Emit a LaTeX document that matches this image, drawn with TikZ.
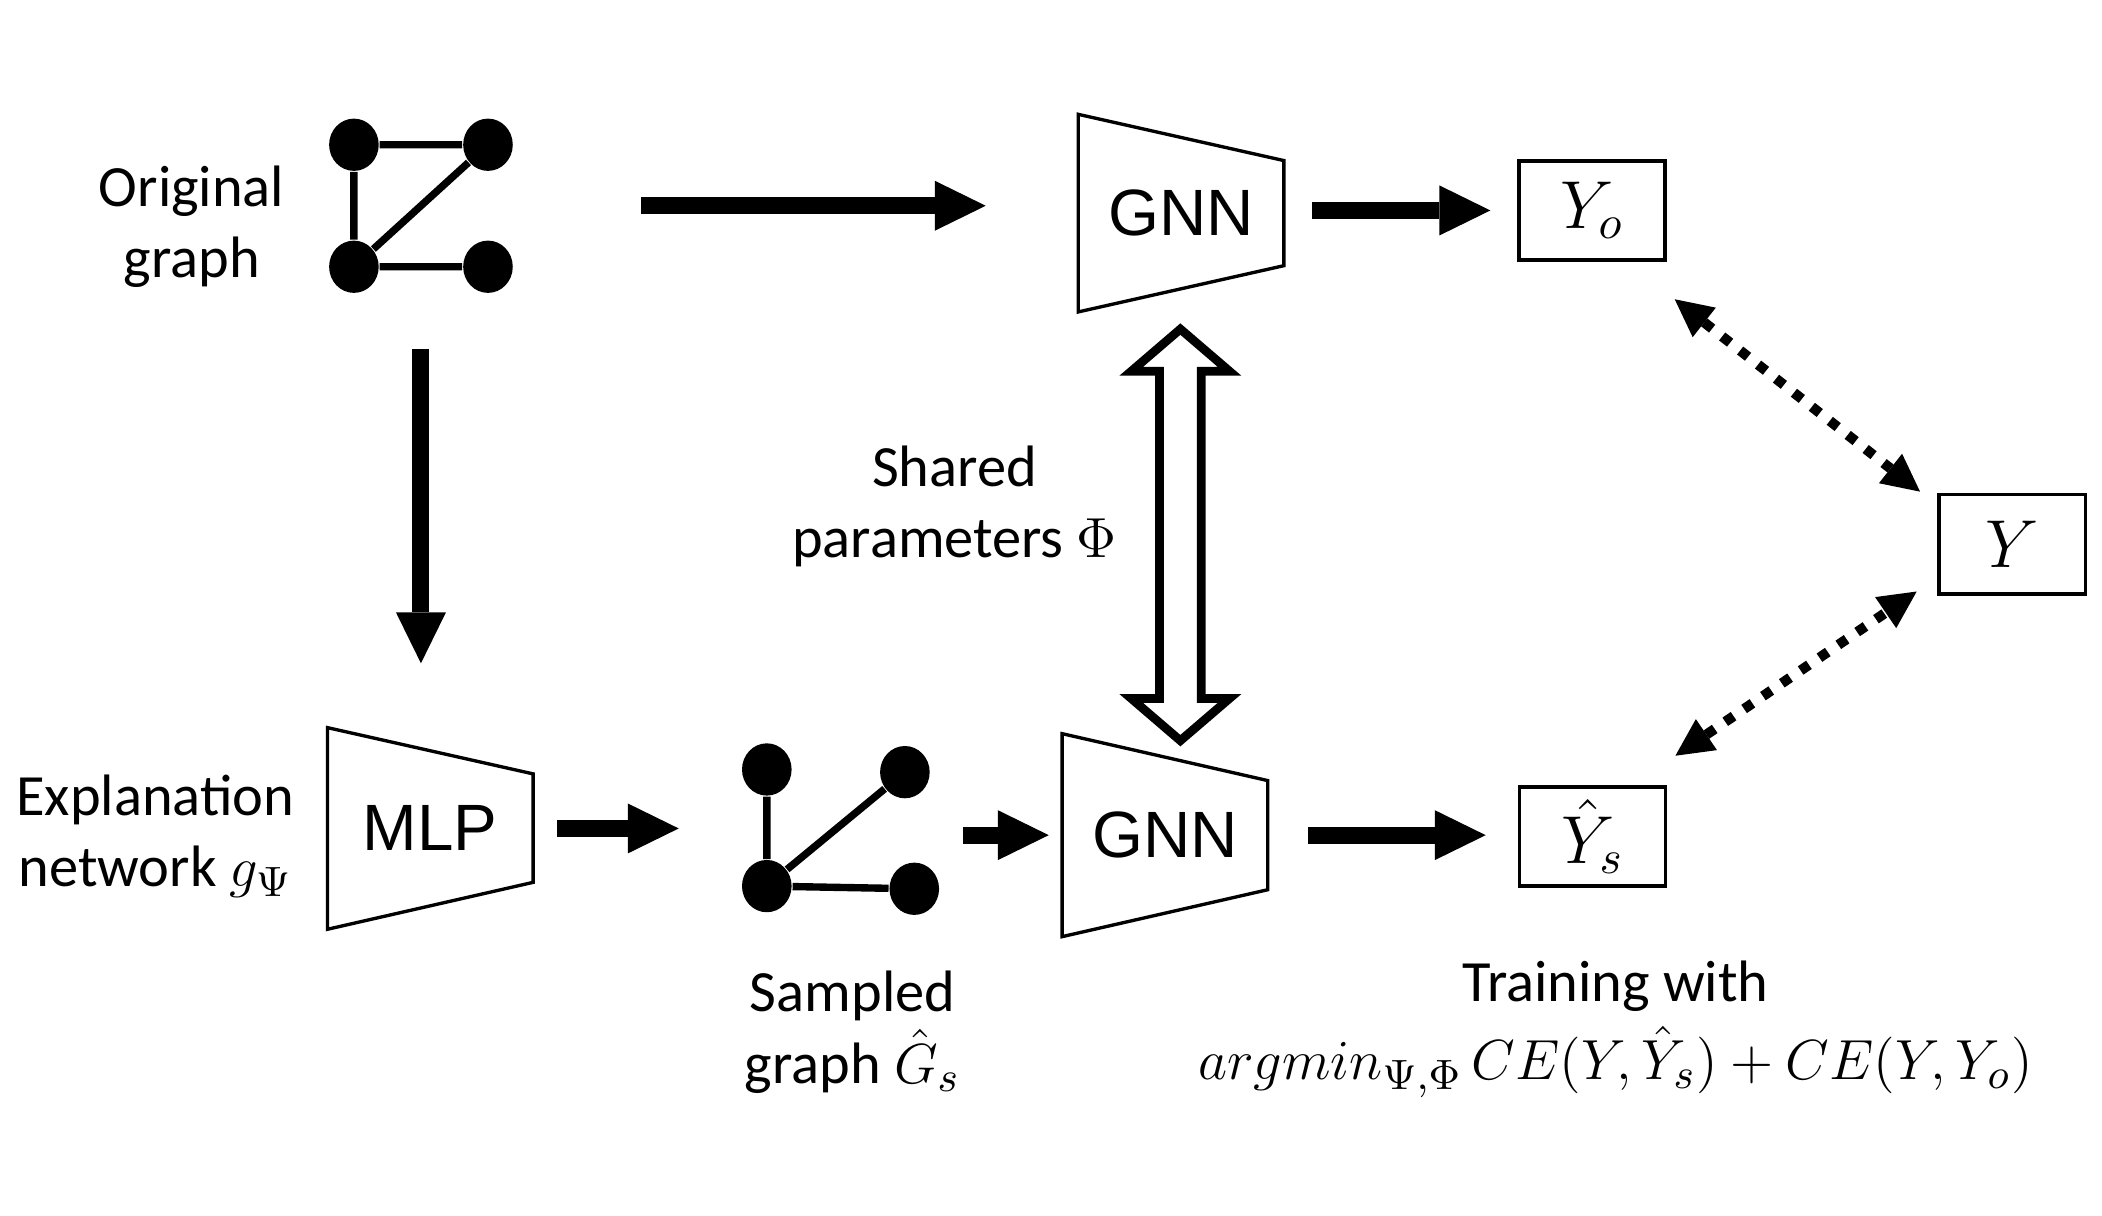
\documentclass[tikz,border=0pt]{standalone}
\usepackage{fontspec}
\setmainfont{Carlito}
\newfontfamily\arialfont{Liberation Sans}
\usetikzlibrary{arrows.meta,shapes.geometric,calc}
\begin{document}
\begin{tikzpicture}[
  lbl/.style={align=center, font=\fontsize{12.4}{15.1}\selectfont, inner sep=0},
  gnode/.style={ellipse, fill=black, minimum width=0.37cm, minimum height=0.39cm, inner sep=0},
  gedge/.style={line width=0.055cm},
  bigarrow/.style={line width=0.127cm, -{Triangle[length=0.38cm,width=0.373cm,line width=0pt]}},
  dotarrow/.style={line width=0.075cm, dash pattern=on 0.075cm off 0.095cm,
     {Triangle[length=0.28cm,width=0.28cm,line width=0pt]}-{Triangle[length=0.28cm,width=0.28cm,line width=0pt]}},
  outbox/.style={draw, line width=0.025cm, minimum width=1.09cm, minimum height=0.74cm, inner sep=0, font=\fontsize{14}{16}\selectfont},
  trapbox/.style={minimum width=1.52cm, inner sep=0, font=\arialfont\fontsize{13.9}{16}\selectfont},
  trapline/.style={line width=0.025cm, line join=miter},
]
\useasboundingbox (0,0) rectangle (15.68,9.07);

% original graph
\node[gnode] (o1) at (2.64,7.99) {};
\node[gnode] (o2) at (3.64,7.99) {};
\node[gnode] (o3) at (2.64,7.08) {};
\node[gnode] (o4) at (3.64,7.08) {};
\draw[gedge] (o1) -- (o2) (o1) -- (o3) (o3) -- (o2) (o3) -- (o4);
\node[lbl] (ogT) at (1.43,7.38) {Original\\graph};

% top GNN
\node[trapbox, minimum height=1.46cm] (gnnA) at (8.81,7.48) {GNN};
\draw[trapline] (gnnA.north west) -- ($(gnnA.north east)+(0,-0.345)$) -- ($(gnnA.south east)+(0,0.345)$) -- (gnnA.south west) -- cycle;

% output boxes
\node[outbox] (yo) at (11.875,7.50) {$Y_o$};
\node[outbox] (y) at (15.01,5.01) {$Y$};
\node[outbox] (ys) at (11.88,2.83) {$\hat{Y}_s$};

% MLP
\node[trapbox, minimum height=1.49cm] (mlp) at (3.21,2.89) {MLP};
\draw[trapline] (mlp.north west) -- ($(mlp.north east)+(0,-0.345)$) -- ($(mlp.south east)+(0,0.35)$) -- (mlp.south west) -- cycle;
\node[lbl] (exT) at (1.16,2.83) {Explanation\\network $g_\Psi$};

% sampled graph
\node[gnode] (s1) at (5.72,3.33) {};
\node[gnode] (s2) at (6.75,3.31) {};
\node[gnode] (s3) at (5.72,2.46) {};
\node[gnode] (s4) at (6.82,2.44) {};
\draw[gedge] (s1) -- (s3) (s3) -- (s2) (s3) -- (s4);
\node[lbl] (sgT) at (6.36,1.37) {Sampled\\graph $\hat{G}_s$};

% bottom GNN
\node[trapbox, minimum height=1.50cm] (gnnB) at (8.69,2.84) {GNN};
\draw[trapline] (gnnB.north west) -- ($(gnnB.north east)+(0,-0.35)$) -- ($(gnnB.south east)+(0,0.35)$) -- (gnnB.south west) -- cycle;

% shared parameters
\node[lbl] (shT) at (7.12,5.29) {Shared\\parameters $\Phi$};
\draw[line width=0.065cm, line join=miter, fill=white]
  (8.805,6.615) -- (9.172,6.30) -- (8.96,6.30) -- (8.96,3.86) -- (9.172,3.86) -- (8.805,3.545)
  -- (8.438,3.86) -- (8.65,3.86) -- (8.65,6.30) -- (8.438,6.30) -- cycle;

% training text
\node[lbl] (trT) at (12.05,1.71) {Training with};
\node[lbl, font=\fontsize{12.8}{15}\selectfont] (fmT) at (12.05,1.15)
  {$argmin_{\Psi,\Phi}\,CE\bigl(Y,\hat{Y}_s\bigr)+CE\bigl(Y,Y_o\bigr)$};

% arrows
\coordinate (ogE) at ($(o2)!0.5!(o4)+(1.14,0)$);
\draw[bigarrow, shorten >=0.69cm] (ogE) -- (ogE -| gnnA.west);
\draw[bigarrow, shorten <=0.21cm, shorten >=0.20cm] (yo.west -| gnnA.east) -- (yo.west);
\coordinate (ogS) at ($(o3)!0.5!(o4)+(0,-0.61)$);
\draw[bigarrow, shorten >=0.48cm] (ogS) -- (ogS |- mlp.north);
\draw[bigarrow, shorten <=0.18cm, shorten >=0.465cm] (mlp.east) -- (s3.west |- mlp.east);
\draw[bigarrow, shorten <=0.17cm, shorten >=0.10cm] (gnnB.west -| s4.east) -- (gnnB.west);
\draw[bigarrow, shorten <=0.30cm, shorten >=0.24cm] (gnnB.east) -- (gnnB.east -| ys.west);

% dotted double arrows
\draw[dotarrow] ([shift={(0.06,-0.28)}]yo.south east) -- ([shift={(-0.13,0.01)}]y.north west);
\draw[dotarrow] ([shift={(0.06,0.22)}]ys.north east) -- ([shift={(-0.155,0.03)}]y.south west);
\end{tikzpicture}
\end{document}
